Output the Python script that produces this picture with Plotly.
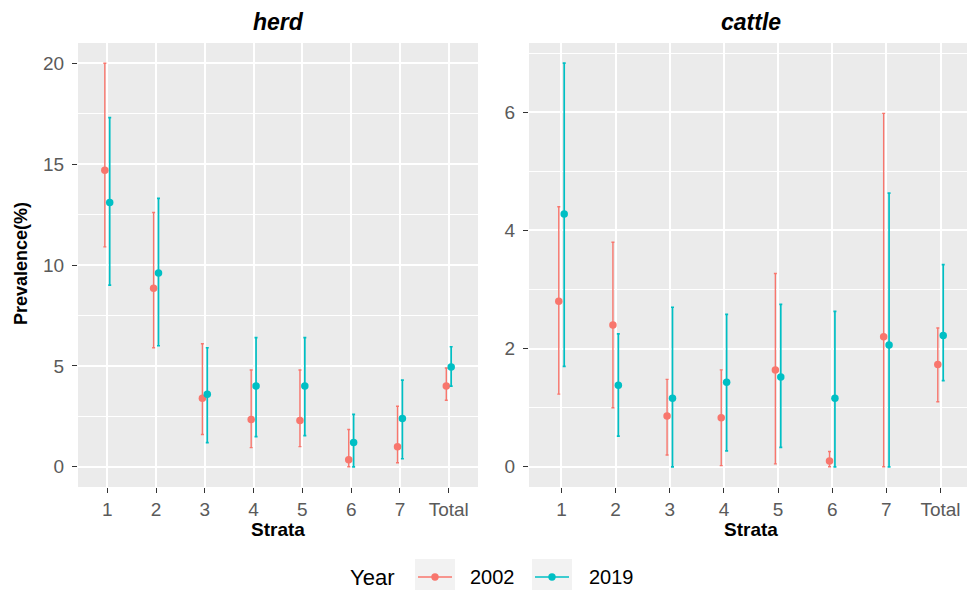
import plotly.graph_objects as go

strata = ["1", "2", "3", "4", "5", "6", "7", "Total"]
years = ["2002", "2019"]

herd_2002 = [14.7, 8.85, 3.4, 2.35, 2.3, 0.35, 1.0, 4.0]
herd_2002_lo = [10.9, 5.9, 1.6, 0.95, 1.0, 0.0, 0.2, 3.3]
herd_2002_hi = [20.0, 12.6, 6.1, 4.8, 4.8, 1.85, 3.0, 4.9]
herd_2019 = [13.1, 9.6, 3.6, 4.0, 4.0, 1.2, 2.4, 4.95]
herd_2019_lo = [9.0, 6.0, 1.2, 1.5, 1.55, 0.0, 0.4, 4.0]
herd_2019_hi = [17.3, 13.3, 5.9, 6.4, 6.4, 2.6, 4.3, 5.95]

cattle_2002 = [2.8, 2.4, 0.86, 0.83, 1.64, 0.1, 2.2, 1.73]
cattle_2002_lo = [1.23, 1.0, 0.2, 0.02, 0.05, 0.0, 0.0, 1.1]
cattle_2002_hi = [4.4, 3.8, 1.48, 1.64, 3.27, 0.26, 5.98, 2.35]
cattle_2019 = [4.28, 1.38, 1.16, 1.43, 1.52, 1.16, 2.06, 2.22]
cattle_2019_lo = [1.7, 0.52, 0.0, 0.27, 0.33, 0.0, 0.0, 1.46]
cattle_2019_hi = [6.83, 2.25, 2.7, 2.58, 2.75, 2.63, 4.63, 3.42]

panels = [
    ("herd", "x", "y", [(herd_2002, herd_2002_lo, herd_2002_hi), (herd_2019, herd_2019_lo, herd_2019_hi)]),
    ("cattle", "x2", "y2", [(cattle_2002, cattle_2002_lo, cattle_2002_hi), (cattle_2019, cattle_2019_lo, cattle_2019_hi)]),
]
colors = {"2002": "#F8766D", "2019": "#00BFC4"}
widths = {"2002": 1.4, "2019": 1.7}
FONT = "Liberation Sans, Arial, sans-serif"

fig = go.Figure()
for name, xa, ya, series in panels:
    for yr, (val, lo, hi) in zip(years, series):
        fig.add_trace(go.Scatter(
            x=strata, y=val, xaxis=xa, yaxis=ya, name=yr, legendgroup=yr,
            mode="markers", showlegend=False,
            marker=dict(color=colors[yr], size=7.5),
            error_y=dict(type="data", symmetric=False,
                         array=[h - v for h, v in zip(hi, val)],
                         arrayminus=[v - l for v, l in zip(val, lo)],
                         color=colors[yr], thickness=widths[yr], width=1.5),
        ))


def yrange(series):
    lo = min(min(s[1]) for s in series)
    hi = max(max(s[2]) for s in series)
    pad = (hi - lo) * 0.05
    return [lo - pad, hi + pad]


# page body has an 8px margin; figure occupies the remaining window
OFF = 8
W, H = 975 - OFF, 590 - OFF


def px(x):
    return (x - OFF) / W


def py(y):
    return 1 - (y - OFF) / H


left = (78, 478)
right = (529, 973)
top, bottom = 43, 487
ydom = [py(bottom), py(top)]

axis_common = dict(
    showgrid=True, gridcolor="white", gridwidth=1.6,
    ticks="outside", ticklen=5, tickwidth=1.2, tickcolor="#333333",
    tickfont=dict(family=FONT, size=19, color="#5A5A5A"),
    showline=False, zeroline=False,
)

fig.update_layout(
    width=W, height=H,
    margin=dict(l=0, r=0, t=0, b=0),
    paper_bgcolor="white", plot_bgcolor="#EBEBEB",
    scattermode="group", scattergap=0.8,
    xaxis=dict(domain=[px(left[0]), px(left[1])], anchor="y", type="category",
               range=[-0.6, 7.6], **axis_common),
    xaxis2=dict(domain=[px(right[0]), px(right[1])], anchor="y2", type="category",
                range=[-0.6, 7.6], **axis_common),
    yaxis=dict(domain=ydom, anchor="x", range=yrange(panels[0][3]), dtick=5,
               minor=dict(dtick=2.5, showgrid=True, gridcolor="white", gridwidth=0.7),
               ticklabelstandoff=4, **axis_common),
    yaxis2=dict(domain=ydom, anchor="x2", range=yrange(panels[1][3]), dtick=2,
                minor=dict(dtick=1, showgrid=True, gridcolor="white", gridwidth=0.7),
                ticklabelstandoff=4, **axis_common),
    showlegend=False,
)

ann = []
for name, (x0, x1) in zip(["herd", "cattle"], [left, right]):
    cx = px((x0 + x1) / 2)
    ann.append(dict(text="<b><i>%s</i></b>" % name, x=cx, y=py(22), xref="paper", yref="paper",
                    showarrow=False, xanchor="center", yanchor="middle",
                    font=dict(family=FONT, size=23, color="black")))
    ann.append(dict(text="<b>Strata</b>", x=cx, y=py(529), xref="paper", yref="paper",
                    showarrow=False, xanchor="center", yanchor="middle",
                    font=dict(family=FONT, size=19, color="black")))
ann.append(dict(text="<b>Prevalence(%)</b>", x=px(21), y=py(264), xref="paper", yref="paper",
                showarrow=False, xanchor="center", yanchor="middle", textangle=-90,
                font=dict(family=FONT, size=18, color="black")))

# Legend (manual, ggplot style)
ly = 577
ann.append(dict(text="Year", x=px(372), y=py(ly), xref="paper", yref="paper", showarrow=False,
                xanchor="center", yanchor="middle", font=dict(family=FONT, size=22, color="black")))
shapes = []
for yr, (bx0, bx1), tx in zip(years, [(415, 455), (532, 572)], [492, 611]):
    shapes.append(dict(type="rect", xref="paper", yref="paper", x0=px(bx0), x1=px(bx1),
                       y0=py(596), y1=py(559), fillcolor="#F2F2F2", line=dict(width=0), layer="below"))
    shapes.append(dict(type="line", xref="paper", yref="paper", x0=px(bx0 + 3), x1=px(bx1 - 3),
                       y0=py(ly), y1=py(ly), line=dict(color=colors[yr], width=1.5)))
    cx = (bx0 + bx1) / 2
    r = 3.7
    shapes.append(dict(type="circle", xref="paper", yref="paper", x0=px(cx - r), x1=px(cx + r),
                       y0=py(ly + r), y1=py(ly - r), fillcolor=colors[yr], line=dict(width=0)))
    ann.append(dict(text=yr, x=px(tx), y=py(ly), xref="paper", yref="paper", showarrow=False,
                    xanchor="center", yanchor="middle", font=dict(family=FONT, size=20, color="black")))

fig.update_layout(annotations=ann, shapes=shapes)
fig.write_html("out.html")
